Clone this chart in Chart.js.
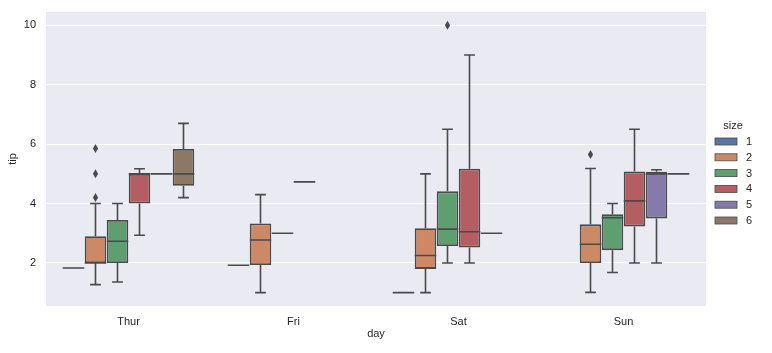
<!DOCTYPE html>
<html lang="en">
<head>
  <meta charset="UTF-8">
  <title>tip by day and size</title>
  <style>
    html, body { margin: 0; padding: 0; background: #ffffff; }
    #wrap { width: 772px; height: 353px; }
  </style>
</head>
<body>
  <div id="wrap"><canvas id="boxChart" width="772" height="353"></canvas></div>

  <script src="https://cdn.jsdelivr.net/npm/chart.js"></script>
  <script>
    // categories and hue levels
    const days = ['Thur', 'Fri', 'Sat', 'Sun'];
    const sizes = ['1', '2', '3', '4', '5', '6'];
    const yTicks = [2, 4, 6, 8, 10];

    // per day: [lower whisker, q1, median, q3, upper whisker] (null = no data)
    const size1 = [[1.83, 1.83, 1.83, 1.83, 1.83], [1.92, 1.92, 1.92, 1.92, 1.92], [1.0, 1.0, 1.0, 1.0, 1.0], null];
    const size2 = [[1.27, 2.0, 2.0, 2.9, 4.0], [1.0, 1.93, 2.77, 3.33, 4.3], [1.0, 1.8, 2.25, 3.17, 5.0], [1.01, 2.0, 2.63, 3.3, 5.18]];
    const size3 = [[1.36, 2.0, 2.73, 3.45, 4.0], [3.0, 3.0, 3.0, 3.0, 3.0], [2.0, 2.57, 3.14, 4.41, 6.5], [1.68, 2.43, 3.52, 3.64, 4.0]];
    const size4 = [[2.93, 4.0, 5.0, 5.0, 5.17], [4.73, 4.73, 4.73, 4.73, 4.73], [2.0, 2.52, 3.05, 5.17, 9.0], [2.0, 3.23, 4.09, 5.08, 6.5]];
    const size5 = [[5.0, 5.0, 5.0, 5.0, 5.0], null, [3.0, 3.0, 3.0, 3.0, 3.0], [2.0, 3.5, 5.0, 5.07, 5.14]];
    const size6 = [[4.2, 4.6, 5.0, 5.84, 6.7], null, null, [5.0, 5.0, 5.0, 5.0, 5.0]];

    // outlier points per day
    const outliers2 = [[4.2, 5.0, 5.85], [], [], [5.65]];
    const outliers3 = [[], [], [10.0], []];

    const boxStats = [size1, size2, size3, size4, size5, size6];
    const boxOutliers = [[], outliers2, outliers3, [], [], []];
    const colors = ['#5875a4', '#cc8963', '#5f9e6e', '#b55d60', '#857aab', '#8d7866'];
    const lineGray = '#4a4a4a';
    const fontFamily = '"Liberation Sans", Arial, sans-serif';

    // grey panel behind the plot
    const panelBg = {
      id: 'panelBg',
      beforeDraw(chart) {
        const { ctx, chartArea: a } = chart;
        ctx.save();
        ctx.fillStyle = '#eaeaf2';
        ctx.fillRect(a.left, a.top, a.right - a.left, a.bottom - a.top);
        ctx.restore();
      }
    };

    // whiskers, caps, medians and outliers drawn on top of the floating bars
    const boxDecor = {
      id: 'boxDecor',
      afterDatasetsDraw(chart) {
        const { ctx } = chart;
        const y = chart.scales.y;
        ctx.save();
        ctx.strokeStyle = lineGray;
        ctx.fillStyle = lineGray;
        ctx.lineWidth = 1.6;
        boxStats.forEach((series, i) => {
          const meta = chart.getDatasetMeta(i);
          series.forEach((s, j) => {
            if (!s) return;
            const el = meta.data[j];
            const x = el.x;
            const w = el.width;
            const [lo, q1, med, q3, hi] = s.map(v => y.getPixelForValue(v));
            ctx.beginPath();
            ctx.moveTo(x, q1); ctx.lineTo(x, lo);
            ctx.moveTo(x, q3); ctx.lineTo(x, hi);
            ctx.moveTo(x - w / 4, lo); ctx.lineTo(x + w / 4, lo);
            ctx.moveTo(x - w / 4, hi); ctx.lineTo(x + w / 4, hi);
            ctx.moveTo(x - w / 2, med); ctx.lineTo(x + w / 2, med);
            ctx.stroke();
            (boxOutliers[i][j] || []).forEach(v => {
              const py = y.getPixelForValue(v);
              ctx.beginPath();
              ctx.moveTo(x, py - 4.5);
              ctx.lineTo(x + 2.6, py);
              ctx.lineTo(x, py + 4.5);
              ctx.lineTo(x - 2.6, py);
              ctx.closePath();
              ctx.fill();
            });
          });
        });
        ctx.restore();
      }
    };

    // legend with title on the right, like seaborn's
    const sideLegend = {
      id: 'sideLegend',
      afterDraw(chart) {
        const { ctx } = chart;
        ctx.save();
        ctx.font = '11px ' + fontFamily;
        ctx.fillStyle = '#262626';
        ctx.textBaseline = 'middle';
        ctx.textAlign = 'center';
        ctx.fillText('size', 733, 126);
        ctx.textAlign = 'left';
        sizes.forEach((s, k) => {
          const cy = 141.5 + k * 15.8;
          ctx.fillStyle = colors[k];
          ctx.fillRect(715, cy - 3.5, 22, 7);
          ctx.strokeStyle = lineGray;
          ctx.lineWidth = 0.8;
          ctx.strokeRect(715, cy - 3.5, 22, 7);
          ctx.fillStyle = '#262626';
          ctx.fillText(s, 746, cy + 0.5);
        });
        ctx.restore();
      }
    };

    const datasets = sizes.map((s, i) => ({
      label: s,
      data: boxStats[i].map(v => v ? [v[1], v[3]] : null),
      backgroundColor: colors[i],
      borderColor: lineGray,
      borderWidth: 1.8,
      borderSkipped: false,
      categoryPercentage: 0.8,
      barPercentage: 0.98
    }));

    const chart = new Chart(document.getElementById('boxChart'), {
      type: 'bar',
      data: { labels: days, datasets },
      options: {
        responsive: false,
        animation: false,
        layout: { padding: { top: 12, right: 66, left: 0, bottom: 0 } },
        plugins: {
          legend: { display: false },
          tooltip: { enabled: false }
        },
        scales: {
          x: {
            grid: { display: false, drawTicks: false },
            border: { display: false },
            ticks: { color: '#262626', font: { family: fontFamily, size: 11 }, padding: 9 },
            title: { display: true, text: 'day', color: '#262626', font: { family: fontFamily, size: 11 }, padding: { top: 0, bottom: 12 } },
            afterFit(scale) { scale.height = 47; scale.paddingLeft = 0; scale.paddingRight = 0; }
          },
          y: {
            min: 0.55,
            max: 10.45,
            grid: { color: '#ffffff', lineWidth: 1, drawTicks: false },
            border: { display: false },
            ticks: { color: '#262626', font: { family: fontFamily, size: 11 }, padding: 10 },
            title: { display: true, text: 'tip', color: '#262626', font: { family: fontFamily, size: 11 }, padding: { top: 6, bottom: 0 } },
            afterBuildTicks(scale) { scale.ticks = yTicks.map(v => ({ value: v })); },
            afterFit(scale) { scale.width = 46; scale.paddingTop = 0; scale.paddingBottom = 0; }
          }
        }
      },
      plugins: [panelBg, boxDecor, sideLegend]
    });
  </script>
</body>
</html>
